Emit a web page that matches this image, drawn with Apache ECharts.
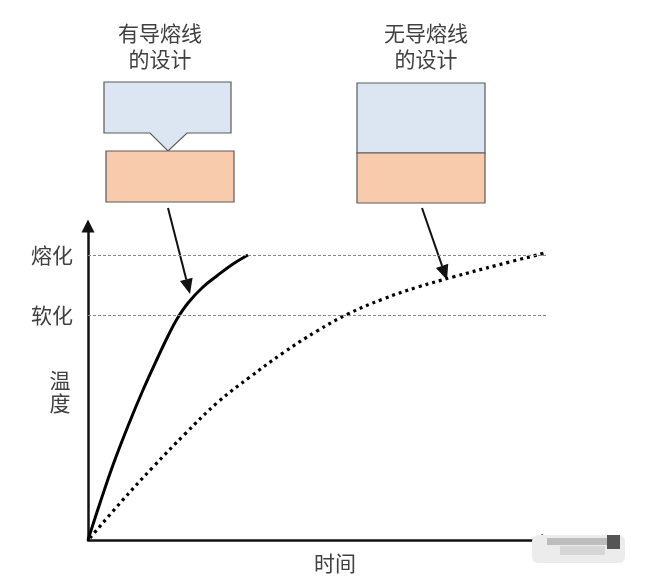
<!DOCTYPE html>
<html>
<head>
<meta charset="utf-8">
<script src="https://cdn.jsdelivr.net/npm/echarts@6/dist/echarts.min.js"></script>
<style>
html,body{margin:0;padding:0;background:#fff;}
#main{width:669px;height:585px;}
</style>
</head>
<body>
<div id="main"></div>
<script>
// time (x) / temperature (y) values
var fuseX   = [0, 12, 25, 40, 55, 70, 80, 89, 100, 115, 130, 145, 160];
var fuseY   = [0, 37, 75, 114, 150, 183, 204, 221, 237, 253, 265, 276, 285];
var noFuseX = [2, 33, 65, 97, 130, 162, 195, 229, 260, 295, 330, 365, 410, 457];
var noFuseY = [2, 38, 73, 106, 138, 163, 187, 209, 226, 241, 253, 263, 275, 287];
var levelValues = [225, 285];
var levelNames  = ['软化', '熔化'];
var yAxisName = '温度';
var xAxisName = '时间';
var titleLeft  = ['有导熔线', '的设计'];
var titleRight = ['无导熔线', '的设计'];

function zip(a, b){ return a.map(function(v,i){ return [v, b[i]]; }); }

var FONT = '"Noto Sans CJK SC", sans-serif';
var TXT = '#404040';
var BLUE = '#dce6f2', ORANGE = '#f8cbad', EDGE = '#5a5a5a';

function arrow(x1, y1, x2, y2){
  var dx = x2 - x1, dy = y2 - y1, L = Math.sqrt(dx*dx + dy*dy);
  var ux = dx / L, uy = dy / L, hl = 15, hw = 6.5;
  var bx = x2 - ux*hl, by = y2 - uy*hl;
  return [
    {type:'line', shape:{x1:x1, y1:y1, x2:bx, y2:by}, style:{stroke:'#111', lineWidth:2}},
    {type:'polygon', shape:{points:[[x2,y2],[bx - uy*hw, by + ux*hw],[bx + uy*hw, by - ux*hw]]}, style:{fill:'#111'}}
  ];
}

var graphics = [
  // left illustration
  {type:'polygon', shape:{points:[[104,82],[231,82],[231,133],[187,133],[168,151],[150,133],[104,133]]},
   style:{fill:BLUE, stroke:EDGE, lineWidth:1.2}},
  {type:'rect', shape:{x:106, y:151, width:128, height:51}, style:{fill:ORANGE, stroke:EDGE, lineWidth:1.2}},
  {type:'text', style:{x:160, y:46, text:titleLeft.join('\n'), font:'21px ' + FONT, fill:TXT, align:'center', verticalAlign:'middle', lineHeight:26}},
  // right illustration
  {type:'rect', shape:{x:357, y:83, width:128, height:70}, style:{fill:BLUE, stroke:EDGE, lineWidth:1.2}},
  {type:'rect', shape:{x:357, y:153, width:128, height:50}, style:{fill:ORANGE, stroke:EDGE, lineWidth:1.2}},
  {type:'text', style:{x:426, y:46, text:titleRight.join('\n'), font:'21px ' + FONT, fill:TXT, align:'center', verticalAlign:'middle', lineHeight:26}},
  // y axis name
  {type:'text', style:{x:60, y:392, text:yAxisName.split('').join('\n'), font:'21px ' + FONT, fill:TXT, align:'center', verticalAlign:'middle', lineHeight:23}},
  // blurred watermark
  {type:'rect', shape:{x:532, y:535, width:93, height:28, r:6}, style:{fill:'#ececec'}, z:100},
  {type:'rect', shape:{x:547, y:538, width:60, height:7}, style:{fill:'#bdbdbd'}, z:101},
  {type:'rect', shape:{x:560, y:546, width:45, height:9}, style:{fill:'#d6d6d6'}, z:101},
  {type:'rect', shape:{x:607, y:535, width:13, height:14}, style:{fill:'#555'}, z:101}
].concat(arrow(168, 208, 190, 294)).concat(arrow(422, 208, 447, 280));

var chart = echarts.init(document.getElementById('main'));
chart.setOption({
  animation: false,
  backgroundColor: '#fff',
  grid: {left: 88, right: 121, top: 226, bottom: 45},
  xAxis: {
    type: 'value', min: 0, max: 460,
    name: xAxisName, nameLocation: 'middle', nameGap: 13,
    nameTextStyle: {fontFamily: FONT, fontSize: 21, color: TXT, padding: [0, 0, 0, 34]},
    axisLine: {lineStyle: {color: '#111', width: 2.5}, symbol: ['none', 'triangle'], symbolSize: [12, 13]},
    axisTick: {show: false}, axisLabel: {show: false}, splitLine: {show: false}
  },
  yAxis: {
    type: 'value', min: 0, max: 314,
    axisLine: {lineStyle: {color: '#111', width: 2.5}, symbol: ['none', 'triangle'], symbolSize: [13, 13]},
    axisTick: {show: false},
    axisLabel: {
      customValues: levelValues, margin: 15, fontFamily: FONT, fontSize: 21, color: TXT,
      formatter: function(v){ var i = levelValues.indexOf(v); return i >= 0 ? levelNames[i] : ''; }
    },
    splitLine: {show: false}
  },
  series: [
    {
      type: 'line', data: zip(fuseX, fuseY), smooth: 0.4, showSymbol: false,
      lineStyle: {color: '#000', width: 3},
      markLine: {
        silent: true, symbol: ['none', 'none'], label: {show: false},
        lineStyle: {color: '#888', type: [3, 2], width: 1},
        data: levelValues.map(function(v){ return {yAxis: v}; })
      }
    },
    {
      type: 'line', data: zip(noFuseX, noFuseY), smooth: 0.4, showSymbol: false,
      lineStyle: {color: '#000', width: 3.2, type: [3, 4]}
    }
  ],
  graphic: graphics
});
</script>
</body>
</html>
